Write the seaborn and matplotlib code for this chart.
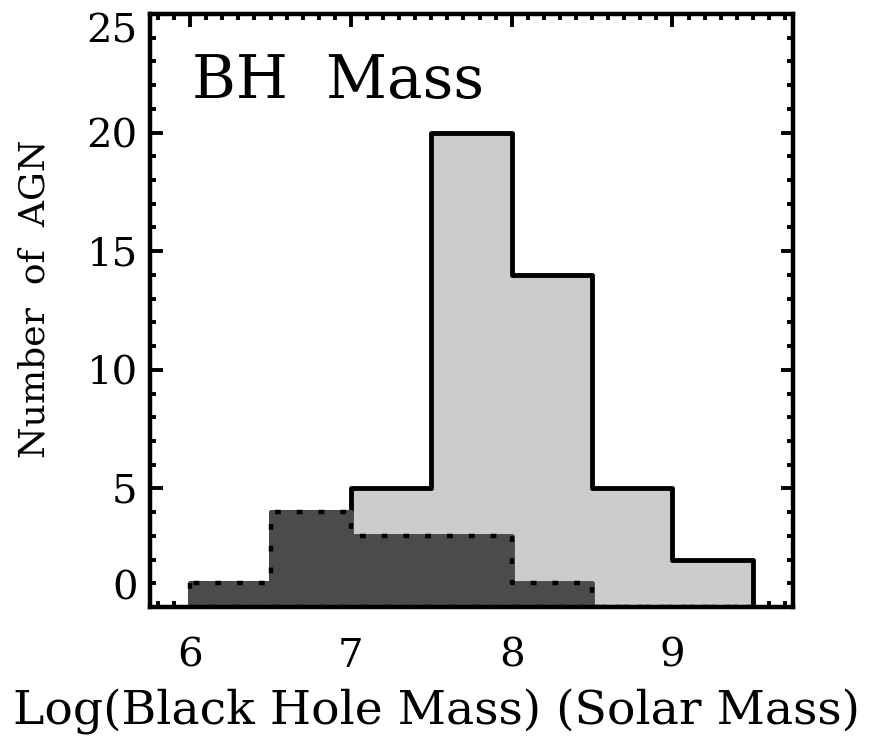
import matplotlib
matplotlib.use("Agg")
import matplotlib.pyplot as plt
import seaborn as sns
from matplotlib.ticker import MultipleLocator

# Black hole mass histogram: full AGN sample vs. sub-sample
bin_edges = [6.0, 6.5, 7.0, 7.5, 8.0, 8.5, 9.0, 9.5]
bin_centers = [6.25, 6.75, 7.25, 7.75, 8.25, 8.75, 9.25]
all_counts = [1, 4, 5, 20, 14, 5, 2]
subset_counts = [1, 4, 3, 3, 1, 0, 0]

x_ticks = [6, 7, 8, 9]
y_ticks = [0, 5, 10, 15, 20, 25]

light_gray = "#cccccc"
dark_gray = "#4b4b4b"

sns.set_theme(style="ticks")
plt.rcParams["font.family"] = ["DejaVu Serif"]
plt.rcParams["text.color"] = "black"
plt.rcParams["axes.labelcolor"] = "black"
plt.rcParams["xtick.color"] = "black"
plt.rcParams["ytick.color"] = "black"

fig = plt.figure(figsize=(8.7, 7.36), dpi=100)
ax = fig.add_axes([150 / 870, 1 - 607 / 736, (793 - 150) / 870, (607 - 14) / 736])

common = dict(bins=bin_edges, element="step", fill=True, stat="count", alpha=1, ax=ax)

# full sample: light fill, solid outline
sns.histplot(x=bin_centers, weights=all_counts, color=light_gray,
             edgecolor="black", linewidth=3.5, zorder=1, **common)
# sub-sample: dark fill, then dotted outline
sns.histplot(x=bin_centers, weights=subset_counts, color=dark_gray,
             edgecolor=dark_gray, linewidth=3.5, zorder=2, **common)
sns.histplot(x=bin_centers, weights=subset_counts, color=dark_gray,
             facecolor="none", edgecolor="black", linewidth=3.2,
             linestyle=(0, (1.3, 3.6)), zorder=3, **common)

ax.set_xlim(5.75, 9.75)
ax.set_ylim(0, 25)
ax.set_xticks(x_ticks)
ax.set_yticks(y_ticks)
ax.xaxis.set_minor_locator(MultipleLocator(0.1))
ax.yaxis.set_minor_locator(MultipleLocator(1))

for sp in ax.spines.values():
    sp.set_visible(True)
    sp.set_linewidth(3.2)
    sp.set_color("black")
    sp.set_zorder(5)

ax.tick_params(which="both", direction="in", top=True, right=True,
               color="black", width=2.8)
ax.tick_params(which="major", length=9)
ax.tick_params(which="minor", length=4.5)
ax.tick_params(axis="x", which="major", labelsize=29, pad=22)
ax.tick_params(axis="y", which="major", labelsize=29, pad=9)

ax.set_xticklabels([str(t) for t in x_ticks])
ax.set_yticklabels([str(t) for t in y_ticks])
ylabels = ax.get_yticklabels()
ylabels[0].set_verticalalignment("bottom")
ylabels[-1].set_verticalalignment("top")

ax.set_xlabel("Log(Black Hole Mass) (Solar Mass)", fontsize=34, va="center")
ax.xaxis.set_label_coords(0.446, -0.177)
ax.set_ylabel("Number  of  AGN", fontsize=26, va="center")
ax.yaxis.set_label_coords(-0.179, 0.519)

ax.text(0.065, 0.858, "BH  Mass", transform=ax.transAxes, fontsize=43,
        ha="left", va="baseline")

fig.savefig("out.png", dpi=100)
